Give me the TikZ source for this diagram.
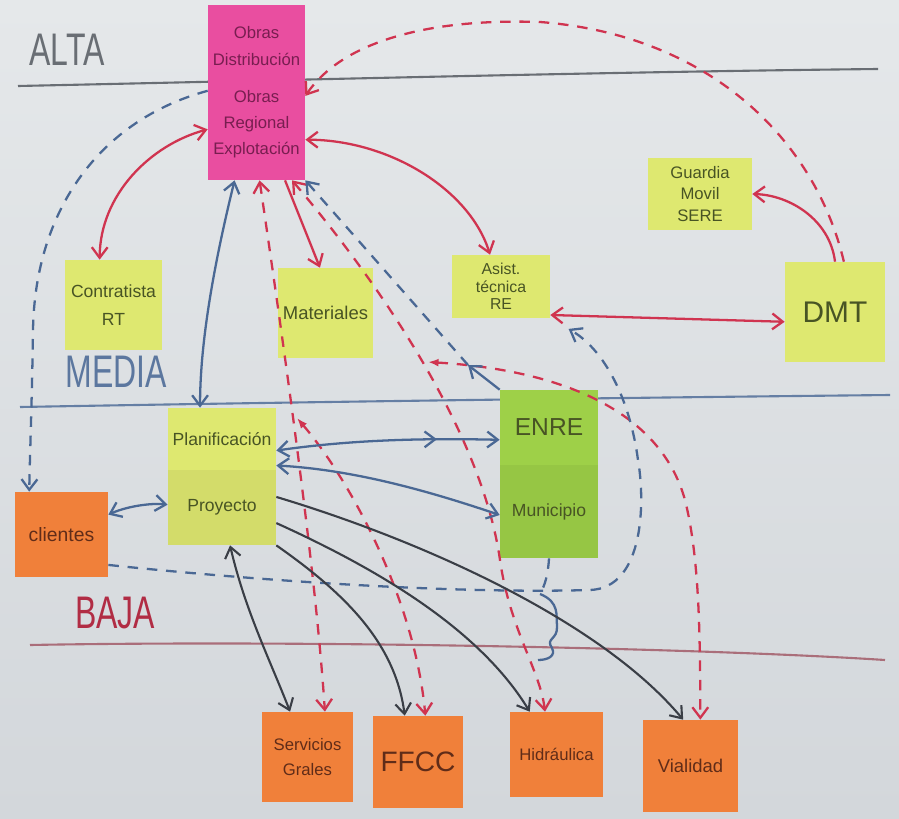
\documentclass[tikz,border=0pt]{standalone}
\usepackage{fontspec}
\setmainfont{Liberation Sans}
\usepackage{graphicx}
\usetikzlibrary{
  arrows.meta,
  decorations.markings
}

\definecolor{boardtop}{RGB}{229,232,234}
\definecolor{boardbot}{RGB}{211,215,219}
\definecolor{notepink}{RGB}{233,78,160}
\definecolor{noteyellow}{RGB}{222,232,112}
\definecolor{notegreen}{RGB}{158,208,72}
\definecolor{noteorange}{RGB}{240,128,58}
\definecolor{inkred}{RGB}{208,52,80}
\definecolor{inkblue}{RGB}{74,104,148}
\definecolor{inkdark}{RGB}{58,62,70}
\definecolor{inkgray}{RGB}{105,110,116}
\definecolor{inkolive}{RGB}{72,84,36}
\definecolor{inkplum}{RGB}{120,30,80}
\definecolor{inkbrown}{RGB}{96,44,24}
\definecolor{inkmauve}{RGB}{170,110,122}

\tikzset{
  postit/.style={inner sep=2pt, align=center, text=inkolive},
  pinkpostit/.style={postit, fill=notepink, text=inkplum},
  yellowpostit/.style={postit, fill=noteyellow},
  greenpostit/.style={postit, fill=notegreen},
  orangepostit/.style={postit, fill=noteorange, text=inkbrown},
  redline/.style={draw=inkred, line width=1.3pt},
  reddash/.style={redline, dash pattern=on 6pt off 5pt},
  blueline/.style={draw=inkblue, line width=1.3pt},
  bluedash/.style={blueline, dash pattern=on 6pt off 5pt},
  darkline/.style={draw=inkdark, line width=1.2pt},
  level/.style={inner sep=0pt, font=\fontsize{26}{26}\selectfont},
  >={Straight Barb[length=6pt,width=9pt]}
}

\begin{document}
\begin{tikzpicture}[x=0.02cm,y=-0.02cm]
    %background
    \useasboundingbox (0,0) rectangle (899,818);
    \fill[top color=boardtop, bottom color=boardbot] (0,0) rectangle (899,818);
    %levels
    \draw[draw=inkgray, line width=1.2pt] (18,86) .. controls (300,80) and (600,72) .. (878,69);
    \draw[draw=inkblue!85!white, line width=1.2pt] (20,407) .. controls (300,402) and (600,398) .. (890,395);
    \draw[draw=inkmauve, line width=1.2pt] (30,645) .. controls (300,640) and (700,648) .. (885,660);
    \node[level, text=inkgray] (alta) at (67,50) {\scalebox{0.7}[1]{ALTA}};
    \node[level, text=inkblue!90!white] (media) at (116,372) {\scalebox{0.7}[1]{MEDIA}};
    \node[level, text=inkred!85!black] (baja) at (115,613) {\scalebox{0.7}[1]{BAJA}};
    %notes
    \node[pinkpostit, minimum width=1.94cm, minimum height=3.5cm, font=\fontsize{9.5}{15}\selectfont]
      (obras) at (256.5,92.5) {Obras\\Distribución\\[6pt]Obras\\Regional\\Explotación};
    \node[yellowpostit, minimum width=1.94cm, minimum height=1.8cm, font=\fontsize{10}{16}\selectfont]
      (contratista) at (113.5,305) {Contratista\\RT};
    \node[yellowpostit, minimum width=1.9cm, minimum height=1.8cm, font=\fontsize{10.5}{13}\selectfont]
      (materiales) at (325.5,313) {Materiales};
    \node[yellowpostit, minimum width=1.96cm, minimum height=1.26cm, font=\fontsize{9}{10}\selectfont]
      (asist) at (501,286.5) {Asist.\\técnica\\RE};
    \node[yellowpostit, minimum width=2.08cm, minimum height=1.44cm, font=\fontsize{9.5}{12}\selectfont]
      (guardia) at (700,194) {Guardia\\Movil\\SERE};
    \node[yellowpostit, minimum width=2cm, minimum height=2cm, font=\fontsize{17}{17}\selectfont]
      (dmt) at (835,312) {DMT};
    \node[yellowpostit, minimum width=2.16cm, minimum height=1.24cm, font=\fontsize{10}{12}\selectfont]
      (plan) at (222,439) {Planificación};
    \node[yellowpostit, fill=noteyellow!95!black, minimum width=2.16cm, minimum height=1.5cm, font=\fontsize{10}{12}\selectfont]
      (proy) at (222,507.5) {Proyecto};
    \node[greenpostit, minimum width=1.96cm, minimum height=1.5cm, font=\fontsize{14}{14}\selectfont]
      (enre) at (549,427.5) {ENRE};
    \node[greenpostit, fill=notegreen!95!black, minimum width=1.96cm, minimum height=1.86cm, font=\fontsize{10}{12}\selectfont]
      (municipio) at (549,511.5) {Municipio};
    \node[orangepostit, minimum width=1.86cm, minimum height=1.7cm, font=\fontsize{11}{13}\selectfont]
      (clientes) at (61.5,534.5) {clientes};
    \node[orangepostit, minimum width=1.82cm, minimum height=1.8cm, font=\fontsize{9.5}{14}\selectfont]
      (servicios) at (307.5,757) {Servicios\\Grales};
    \node[orangepostit, minimum width=1.8cm, minimum height=1.84cm, font=\fontsize{16}{16}\selectfont]
      (ffcc) at (418,762) {FFCC};
    \node[orangepostit, minimum width=1.86cm, minimum height=1.7cm, font=\fontsize{9.5}{12}\selectfont]
      (hidraulica) at (556.5,754.5) {Hidráulica};
    \node[orangepostit, minimum width=1.9cm, minimum height=1.84cm, font=\fontsize{10.5}{12}\selectfont]
      (vialidad) at (690.5,766) {Vialidad};
    %free ends
    \coordinate (fftip) at (297,418);
    \coordinate (redtip) at (428,362);
    \coordinate (bluetip) at (468,365);
    \coordinate (wavetop) at (540,594);
    \coordinate (wavebot) at (538,660);
    %red connections
    \draw[redline,<->] (obras.217) .. controls (150,145) and (100,195) .. (contratista.107);
    \draw[redline,->] (obras.288) -- (materiales.97);
    \draw[redline,<->] (obras.316) .. controls (390,140) and (470,190) .. (asist.109);
    \draw[redline,<->] (asist.330) -- (dmt.191);
    \draw[redline,->] (dmt.north) .. controls (830,220) and (790,195) .. (guardia.east);
    \draw[reddash,->] (dmt.80) .. controls (815,140) and (710,35) .. (540,22)
      .. controls (420,18) and (340,45) .. (obras.356);
    \draw[reddash,<->] (obras.272) .. controls (280,320) and (315,560) .. (servicios.69);
    \draw[reddash,{Latex[length=6pt]}->] (fftip) .. controls (350,480) and (415,600) .. (ffcc.81);
    \draw[reddash,<->] (obras.292) .. controls (360,260) and (480,420) .. (500,560)
      .. controls (510,630) and (540,670) .. (hidraulica.105);
    \draw[reddash,{Latex[length=6pt]}->] (redtip) .. controls (560,370) and (660,410) .. (685,500)
      .. controls (700,560) and (700,640) .. (vialidad.78);
    %blue connections
    \draw[blueline,<->] (obras.256) .. controls (215,260) and (200,340) .. (plan.125);
    \draw[blueline,<->,postaction={decorate,decoration={markings,mark=at position 0.72 with {\arrow{>}}}}]
      (plan.348) .. controls (350,440) and (420,438) .. (enre.194);
    \draw[blueline,<->] (plan.334) .. controls (360,470) and (440,495) .. (municipio.184);
    \draw[blueline,<->] (clientes.23) .. controls (130,505) and (155,503) .. (proy.177);
    \draw[bluedash,->] (obras.178) .. controls (100,120) and (35,210) .. (33,330)
      .. controls (32,400) and (30,450) .. (clientes.127);
    \draw[blueline,->] (enre.north west) -- (bluetip);
    \draw[bluedash,->] (bluetip) -- (obras.south east);
    \draw[bluedash,->,shorten >=12pt] (clientes.327) .. controls (250,580) and (450,594) .. (590,590)
      .. controls (645,588) and (645,500) .. (638,460)
      .. controls (630,400) and (605,350) .. (asist.south east);
    \draw[bluedash] (municipio.south) .. controls (548,575) and (545,585) .. (wavetop);
    \draw[blueline] (wavetop) .. controls (560,602) and (556,616) .. (557,626)
      .. controls (558,640) and (545,638) .. (552,648)
      .. controls (556,656) and (548,660) .. (wavebot);
    %dark connections
    \draw[darkline,<->] (proy.282) .. controls (245,610) and (270,660) .. (servicios.111);
    \draw[darkline,->] (proy.south east) .. controls (340,590) and (395,640) .. (ffcc.106);
    \draw[darkline,->] (proy.344) .. controls (380,570) and (480,630) .. (hidraulica.122);
    \draw[darkline,->] (proy.11) .. controls (420,540) and (600,620) .. (vialidad.99);
\end{tikzpicture}
\end{document}
